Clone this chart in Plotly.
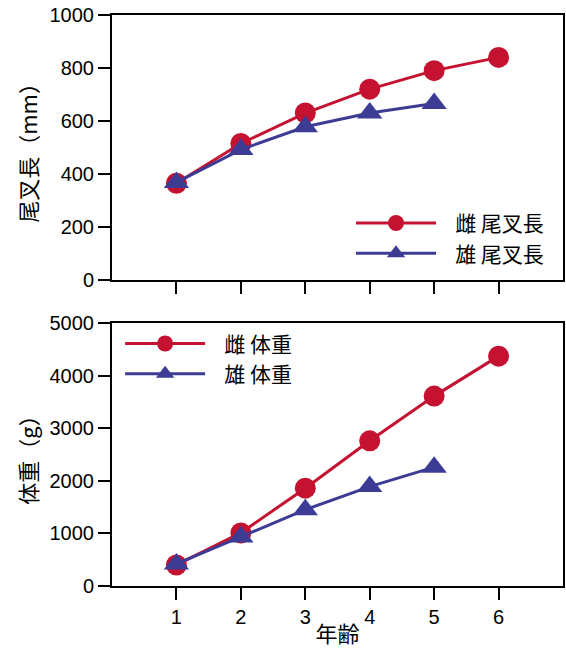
import plotly.graph_objects as go

# Age classes (years)
ages = [1, 2, 3, 4, 5, 6]
male_ages = [1, 2, 3, 4, 5]

# Fork length (mm)
female_length = [365, 515, 630, 720, 790, 840]
male_length = [368, 492, 578, 630, 666]

# Body weight (g)
female_weight = [400, 1010, 1860, 2760, 3610, 4370]
male_weight = [420, 930, 1450, 1890, 2260]

RED = "#C41230"
BLUE = "#3C3C94"
NUM_FONT = dict(family="Liberation Sans, Arial, sans-serif", size=20, color="black")
CJK = "Noto Sans CJK JP, sans-serif"
PAD = "\u00a0\u00a0\u00a0"  # gap between legend key and its label

fig = go.Figure()


def add_series(x, y, name, color, symbol, msize, xa, ya, legend):
    fig.add_trace(go.Scatter(
        x=x, y=y, name=PAD + name, mode="lines+markers",
        line=dict(color=color, width=3),
        marker=dict(color=color, symbol=symbol, size=msize, line=dict(width=0)),
        xaxis=xa, yaxis=ya, legend=legend,
    ))


add_series(ages, female_length, "雌 尾叉長", RED, "circle", 21, "x", "y", "legend")
add_series(male_ages, male_length, "雄 尾叉長", BLUE, "triangle-up", 22, "x", "y", "legend")
add_series(ages, female_weight, "雌 体重", RED, "circle", 21, "x2", "y2", "legend2")
add_series(male_ages, male_weight, "雄 体重", BLUE, "triangle-up", 22, "x2", "y2", "legend2")

axis_common = dict(
    showline=True, linewidth=2, linecolor="black", mirror=True,
    ticks="outside", ticklen=12, tickwidth=2, tickcolor="black",
    showgrid=False, zeroline=False, tickfont=NUM_FONT,
)
title_font = dict(family=CJK, size=22, color="black")
legend_font = dict(family=CJK, size=21, color="black")

fig.update_layout(
    width=566, height=652,
    margin=dict(l=112, r=1, t=15, b=66),
    plot_bgcolor="white", paper_bgcolor="white",
    showlegend=True,
    xaxis=dict(domain=[0, 1], anchor="y", range=[0, 7], tickvals=ages,
               showticklabels=False, **axis_common),
    yaxis=dict(domain=[0.536, 1], anchor="x", range=[0, 1000], dtick=200,
               title=dict(text="尾叉長（mm）", font=title_font, standoff=6),
               **axis_common),
    xaxis2=dict(domain=[0, 1], anchor="y2", range=[0, 7], tickvals=ages,
                title=dict(text="年齢", font=title_font, standoff=0),
                **axis_common),
    yaxis2=dict(domain=[0, 0.4606], anchor="x2", range=[0, 5000], dtick=1000,
                title=dict(text="体重（g）", font=title_font, standoff=6),
                **axis_common),
    legend=dict(x=0.53, y=0.671, xanchor="left", yanchor="top",
                bgcolor="rgba(0,0,0,0)", itemwidth=80,
                font=legend_font, tracegroupgap=0),
    legend2=dict(x=0.018, y=0.46, xanchor="left", yanchor="top",
                 bgcolor="rgba(0,0,0,0)", itemwidth=80,
                 font=legend_font, tracegroupgap=0),
)

fig.write_html("out.html")
